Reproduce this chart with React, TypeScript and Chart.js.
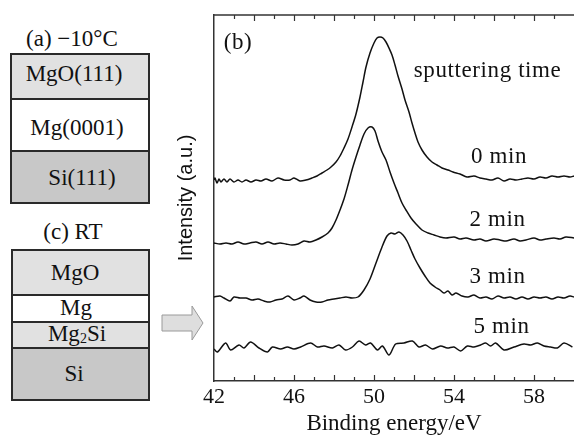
import React, { useEffect, useRef } from "react";
import { Chart, registerables } from "chart.js";

Chart.register(...registerables);

// ---------------- data (binding energy in eV, intensity in a.u.) ----------------
const energy0 = [42.0, 42.05, 42.15, 42.25, 42.35, 42.5, 42.65, 42.8, 43.0, 43.2, 43.4, 43.6, 43.85, 44.1, 44.35, 44.6, 44.9, 45.2, 45.5, 45.8, 46.0, 46.3, 46.6, 46.9, 47.15, 47.4, 47.65, 47.85, 48.1, 48.3, 48.5, 48.7, 48.9, 49.1, 49.3, 49.45, 49.6, 49.8, 50.0, 50.15, 50.3, 50.45, 50.6, 50.75, 50.9, 51.05, 51.2, 51.4, 51.55, 51.75, 51.9, 52.05, 52.2, 52.4, 52.65, 52.9, 53.15, 53.4, 53.7, 53.95, 54.3, 54.65, 55.0, 55.3, 55.6, 55.9, 56.2, 56.5, 56.8, 57.1, 57.4, 57.7, 58.0, 58.3, 58.6, 58.9, 59.2, 59.5, 59.8, 60.0];
const intensity0 = [201, 203, 198, 202, 199, 202, 199, 202, 199, 201, 199, 201, 199, 201, 200, 202, 200, 203, 201, 201, 203, 200, 201, 203, 205, 208, 211, 214, 219, 225, 233, 242, 254, 267, 284, 299, 314, 328, 338, 343, 344, 343, 339, 333, 326, 316, 305, 292, 281, 269, 258, 248, 239, 231, 224, 219, 216, 213, 211, 209, 207, 204, 205, 203, 202, 201, 203, 200, 202, 201, 202, 203, 202, 204, 203, 205, 204, 205, 204, 205];

const energy2 = [42.0, 42.3, 42.6, 42.9, 43.2, 43.5, 43.8, 44.1, 44.4, 44.7, 45.0, 45.3, 45.6, 45.9, 46.2, 46.5, 46.8, 47.1, 47.4, 47.7, 47.9, 48.1, 48.3, 48.5, 48.7, 48.9, 49.1, 49.3, 49.5, 49.7, 49.9, 50.05, 50.2, 50.4, 50.6, 50.8, 51.0, 51.2, 51.4, 51.6, 51.85, 52.1, 52.4, 52.7, 53.0, 53.3, 53.6, 54.0, 54.3, 54.6, 55.0, 55.3, 55.6, 56.0, 56.3, 56.6, 57.0, 57.3, 57.6, 58.0, 58.3, 58.6, 59.0, 59.3, 59.6, 60.0];
const intensity2 = [138, 137, 138, 137, 139, 137, 138, 139, 137, 139, 137, 138, 137, 136, 137, 140, 139, 141, 144, 148, 153, 161, 171, 182, 196, 211, 224, 236, 247, 253, 254, 250, 240, 229, 221, 209, 198, 188, 178, 171, 163, 157, 151, 148, 146, 144, 143, 144, 142, 143, 141, 142, 140, 142, 141, 140, 142, 140, 141, 143, 141, 142, 143, 142, 144, 143];

const energy3 = [42.0, 42.3, 42.5, 42.8, 43.0, 43.3, 43.6, 43.9, 44.2, 44.5, 44.8, 45.1, 45.4, 45.7, 46.0, 46.3, 46.5, 46.8, 47.1, 47.4, 47.7, 48.0, 48.3, 48.6, 48.9, 49.2, 49.5, 49.8, 50.1, 50.4, 50.65, 50.85, 51.05, 51.25, 51.45, 51.65, 51.85, 52.05, 52.3, 52.55, 52.8, 53.05, 53.3, 53.5, 53.7, 53.9, 54.1, 54.4, 54.7, 55.0, 55.3, 55.6, 55.9, 56.2, 56.5, 56.8, 57.1, 57.4, 57.7, 58.0, 58.3, 58.6, 58.9, 59.2, 59.5, 59.8, 60.0];
const intensity3 = [84, 85, 83, 80, 84, 83, 83, 81, 82, 80, 79, 81, 82, 85, 81, 83, 85, 81, 79, 79, 81, 82, 83, 84, 83, 84, 91, 102, 118, 134, 145, 148, 147, 149, 146, 140, 131, 122, 113, 105, 98, 94, 91, 88, 90, 86, 88, 85, 84, 86, 83, 84, 82, 85, 83, 84, 82, 84, 82, 84, 83, 84, 82, 84, 83, 85, 84];

const energy5 = [42.0, 42.17, 42.58, 42.83, 43.25, 43.5, 43.83, 44.25, 44.67, 44.92, 45.33, 45.67, 46.0, 46.33, 46.83, 47.17, 47.5, 47.92, 48.25, 48.58, 48.92, 49.25, 49.58, 49.83, 50.17, 50.42, 50.75, 51.08, 51.5, 51.92, 52.25, 52.58, 52.92, 53.33, 53.67, 54.0, 54.33, 54.67, 55.0, 55.33, 55.58, 55.83, 56.08, 56.5, 57.0, 57.5, 57.83, 58.17, 58.5, 58.83, 59.17, 59.5, 59.92];
const intensity5 = [32, 29, 38, 31, 36, 33, 39, 33, 29, 34, 32, 34, 32, 34, 38, 34, 35, 33, 36, 31, 34, 40, 36, 38, 31, 35, 26, 37, 38, 40, 34, 36, 32, 35, 33, 34, 30, 35, 34, 36, 38, 35, 38, 31, 34, 37, 36, 38, 35, 34, 33, 38, 34];

const xTickValues = [42, 46, 50, 54, 58];
const xMin = 42;
const xMax = 60;
const yMin = 0;
const yMax = 366;

const labelTexts = ["(b)", "sputtering time", "0 min", "2 min", "3 min", "5 min"];
const labelEnergy = [43.2, 55.68, 56.25, 56.18, 56.18, 56.38];
const labelIntensity = [338, 310, 224, 161, 104, 54];

const axisColor = "#333333";
const lineColor = "#111111";
const serif = '"Liberation Serif", "Times New Roman", serif';

const toPoints = (xs: number[], ys: number[]) => xs.map((x, i) => ({ x, y: ys[i] }));

const overlayPlugin = {
  id: "overlay",
  afterDraw(chart: any) {
    const { ctx, chartArea: ca, scales } = chart;
    const xs = scales.x;
    const ys = scales.y;
    ctx.save();
    ctx.strokeStyle = axisColor;
    ctx.lineWidth = 1.5;
    ctx.beginPath();
    ctx.moveTo(ca.left, ca.top);
    ctx.lineTo(ca.right, ca.top);
    ctx.stroke();
    ctx.lineWidth = 1.2;
    for (let v = xMin + 1; v < xMax; v++) {
      const px = Math.round(xs.getPixelForValue(v)) + 0.5;
      const len = v % 2 === 0 ? 6 : 4;
      ctx.beginPath();
      ctx.moveTo(px, ca.bottom);
      ctx.lineTo(px, ca.bottom - len);
      ctx.moveTo(px, ca.top);
      ctx.lineTo(px, ca.top + len);
      ctx.stroke();
    }
    ctx.fillStyle = "#111";
    ctx.font = "23px " + serif;
    ctx.textAlign = "center";
    ctx.textBaseline = "middle";
    if ("letterSpacing" in ctx) (ctx as any).letterSpacing = "0.6px";
    labelTexts.forEach((t, i) => {
      ctx.fillText(t, xs.getPixelForValue(labelEnergy[i]), ys.getPixelForValue(labelIntensity[i]));
    });
    ctx.restore();
  },
};

function LeftPanel() {
  const stroke = "#2a2a2a";
  const light = "#e1e1e1";
  const dark = "#c8c8c8";
  const fs = 23;
  return (
    <svg width={574} height={435} style={{ position: "absolute", left: 0, top: 0 }}>
      <g fontFamily={serif} fontSize={fs} fill="#111">
        <text x={72} y={38} textAnchor="middle" dominantBaseline="central">(a) −10°C</text>
        <rect x={11} y={54} width={138} height={45} fill={light} />
        <rect x={11} y={99} width={138} height={52} fill="#ffffff" />
        <rect x={11} y={151} width={138} height={52} fill={dark} />
        <rect x={11} y={54} width={138} height={149} fill="none" stroke={stroke} strokeWidth={2} />
        <line x1={11} y1={99} x2={149} y2={99} stroke={stroke} strokeWidth={2} />
        <line x1={11} y1={151} x2={149} y2={151} stroke={stroke} strokeWidth={2} />
        <text x={74} y={73} textAnchor="middle" dominantBaseline="central">MgO(111)</text>
        <text x={77} y={127} textAnchor="middle" dominantBaseline="central">Mg(0001)</text>
        <text x={82} y={177} textAnchor="middle" dominantBaseline="central">Si(111)</text>

        <text x={73} y={231} textAnchor="middle" dominantBaseline="central">(c) RT</text>
        <rect x={12} y={250} width={137} height={45} fill={light} />
        <rect x={12} y={295} width={137} height={27} fill="#ffffff" />
        <rect x={12} y={322} width={137} height={26} fill={light} />
        <rect x={12} y={348} width={137} height={52} fill={dark} />
        <rect x={12} y={250} width={137} height={150} fill="none" stroke={stroke} strokeWidth={2} />
        <line x1={12} y1={295} x2={149} y2={295} stroke={stroke} strokeWidth={2} />
        <line x1={12} y1={322} x2={149} y2={322} stroke={stroke} strokeWidth={2} />
        <line x1={12} y1={348} x2={149} y2={348} stroke={stroke} strokeWidth={2} />
        <text x={75} y={272} textAnchor="middle" dominantBaseline="central">MgO</text>
        <text x={76} y={307} textAnchor="middle" dominantBaseline="central">Mg</text>
        <text x={77} y={333} textAnchor="middle" dominantBaseline="central">
          Mg<tspan fontSize={14} dy={5}>2</tspan><tspan dy={-5}>Si</tspan>
        </text>
        <text x={74} y={373} textAnchor="middle" dominantBaseline="central">Si</text>
      </g>
      <polygon
        points="162,315 192,315 192,306 203,323 192,340 192,331 162,331"
        fill="#dedede"
        stroke="#9a9a9a"
        strokeWidth={1}
      />
    </svg>
  );
}

export default function App() {
  const canvasRef = useRef<HTMLCanvasElement | null>(null);

  useEffect(() => {
    if (!canvasRef.current) return;
    const mk = (xs: number[], ys: number[]) => ({
      data: toPoints(xs, ys),
      borderColor: lineColor,
      borderWidth: 1.5,
      pointRadius: 0,
      tension: 0.3,
      fill: false,
    });
    const chart = new Chart(canvasRef.current, {
      type: "line",
      data: {
        datasets: [
          { label: "0 min", ...mk(energy0, intensity0) },
          { label: "2 min", ...mk(energy2, intensity2) },
          { label: "3 min", ...mk(energy3, intensity3) },
          { label: "5 min", ...mk(energy5, intensity5) },
        ],
      },
      options: {
        animation: false,
        responsive: false,
        devicePixelRatio: 1,
        layout: { padding: { left: 160, top: 15, right: 0, bottom: 0 } },
        plugins: { legend: { display: false }, tooltip: { enabled: false } },
        scales: {
          x: {
            type: "linear",
            min: xMin,
            max: xMax,
            afterFit: (s: any) => {
              s.height = 54;
            },
            afterBuildTicks: (s: any) => {
              s.ticks = xTickValues.map((v) => ({ value: v }));
            },
            grid: { display: false, drawTicks: false },
            border: { display: true, color: axisColor, width: 1.5 },
            ticks: {
              color: "#111",
              padding: 5,
              maxRotation: 0,
              autoSkip: false,
              font: { family: serif, size: 22, lineHeight: 1 },
            },
            title: {
              display: true,
              text: "Binding energy/eV",
              color: "#111",
              padding: { top: 0, bottom: 0 },
              font: { family: serif, size: 23, lineHeight: 1 },
            },
          },
          y: {
            type: "linear",
            min: yMin,
            max: yMax,
            afterFit: (s: any) => {
              s.width = 54;
            },
            grid: { display: false, drawTicks: false },
            border: { display: true, color: axisColor, width: 1.5 },
            ticks: { display: false },
            title: {
              display: true,
              text: "Intensity (a.u.)",
              color: "#111",
              padding: { top: 14, bottom: 0 },
              font: { family: '"Liberation Sans", Arial, sans-serif', size: 20, lineHeight: 1.2 },
            },
          },
        },
      },
      plugins: [overlayPlugin],
    });
    return () => chart.destroy();
  }, []);

  return (
    <div style={{ position: "absolute", left: 0, top: 0, width: 574, height: 435, background: "#fff" }}>
      <LeftPanel />
      <canvas
        ref={canvasRef}
        width={574}
        height={435}
        style={{ position: "absolute", left: 0, top: 0, width: 574, height: 435 }}
      />
    </div>
  );
}
